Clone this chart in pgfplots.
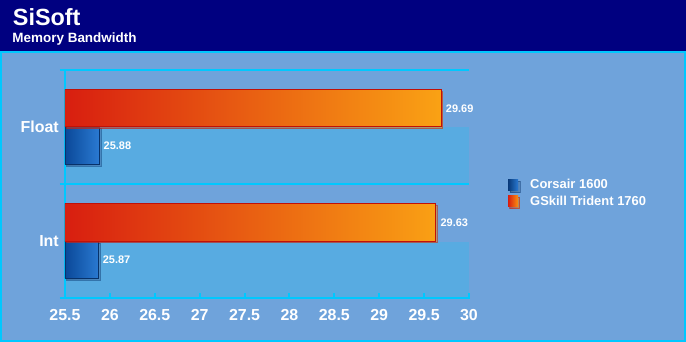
\documentclass[border=0pt]{standalone}
\usepackage{pgfplots}
\pgfplotsset{compat=1.18}
\usepackage{fontspec}
\setmainfont{Liberation Sans}
\usetikzlibrary{shadows}
\definecolor{navy}{HTML}{000080}
\definecolor{cyanb}{HTML}{00C8FF}
\definecolor{panel}{HTML}{6FA3DB}
\definecolor{band}{HTML}{58ABE1}
\definecolor{redL}{HTML}{D81E10}
\definecolor{redR}{HTML}{FAA214}
\definecolor{blueL}{HTML}{0A4898}
\definecolor{blueR}{HTML}{2A7AD2}
\definecolor{redEdge}{HTML}{C01008}
\begin{document}
\begin{tikzpicture}
\fill[panel] (-65bp,-44bp) rectangle (621bp,298bp);
\fill[navy] (-65bp,247bp) rectangle (621bp,298bp);
\draw[cyanb, line width=2.5bp] (-63.75bp,-42.75bp) rectangle (619.75bp,246bp);
\node[anchor=base west, inner sep=0pt, text=white, font=\bfseries\fontsize{23.5}{24}\selectfont] at (-52.3bp,272bp) {SiSoft};
\node[anchor=base west, inner sep=0pt, text=white, font=\bfseries\fontsize{13.5}{14}\selectfont] at (-52.7bp,255.7bp) {Memory Bandwidth};
\fill[band] (0,114bp) rectangle (404bp,171bp);
\fill[band] (0,0) rectangle (404bp,56bp);
% frame lines of the plot area
\draw[cyanb, line width=2bp] (-5bp,228bp) -- (404bp,228bp);
\draw[cyanb, line width=2bp] (-5bp,114bp) -- (404bp,114bp);
\foreach \k in {1,...,9} {\draw[cyanb, line width=2bp] ({\k*404/9*1bp},0) -- ({\k*404/9*1bp},5bp);}
\draw[cyanb, line width=2.5bp] (-5bp,0) -- (405bp,0);
\draw[cyanb, line width=2bp] (0,0) -- (0,229bp);
\begin{axis}[
 at={(0,0)}, anchor=south west, scale only axis, width=404bp, height=228bp,
 xmin=0, xmax=4.5, ymin=0, ymax=2,
 x filter/.expression={x-25.5},
 axis x line*=bottom, axis y line*=left,
 axis line style={draw=none},
 xtick={0,0.5,1,1.5,2,2.5,3,3.5,4,4.5},
 xticklabels={25.5,26,26.5,27,27.5,28,28.5,29,29.5,30},
 major tick length=0pt,
 tick style={draw=none},
 ytick={0.5,1.5}, yticklabels={Int,Float},
 ticklabel style={text=white, font=\bfseries\fontsize{16}{16}\selectfont},
 xticklabel style={yshift=-8bp},
 yticklabel style={xshift=-2.7bp},
 /pgf/number format/assume math mode=true,
 xbar, bar width=0.325,
 point meta=explicit,
 nodes near coords={\pgfmathprintnumber[fixed,fixed zerofill,precision=2]{\pgfplotspointmeta}},
 every node near coord/.append style={text=white, font=\bfseries\fontsize{11}{11}\selectfont, anchor=west, xshift=1bp},
 legend style={at={(1.0965,0.53)}, anchor=north west, draw=none, fill=none, text=white,
   font=\bfseries\fontsize{13}{15}\selectfont, inner sep=0pt, row sep=1.5bp},
 legend cell align=left,
]
\addplot[bar shift=-0.1625, draw=blueL!70!black, line width=0.6bp, left color=blueL, right color=blueR,
  drop shadow={shadow xshift=1.8bp, shadow yshift=-1.8bp, opacity=0.45},
  legend image code/.code={\shade[draw=none, left color=blueL!80!black, right color=blueR] (0bp,-5.5bp) rectangle (10bp,5.5bp); \pgfpathrectangle{\pgfpoint{0bp}{-0.1bp}}{\pgfpoint{20bp}{0.2bp}}\pgfusepath{discard}}]
 table[x=v, y=c, meta=v] {
c v
1.5 25.88
0.5 25.87
};
\addlegendentry{Corsair 1600}
\addplot[bar shift=0.1625, draw=redEdge, line width=1bp, left color=redL, right color=redR,
  drop shadow={shadow xshift=1.6bp, shadow yshift=-1.6bp, opacity=0.45},
  legend image code/.code={\shade[draw=none, left color=redL, right color=redR!90!red] (0bp,-5.5bp) rectangle (10bp,5.5bp); \pgfpathrectangle{\pgfpoint{0bp}{-0.1bp}}{\pgfpoint{20bp}{0.2bp}}\pgfusepath{discard}}]
 table[x=v, y=c, meta=v] {
c v
1.5 29.69
0.5 29.63
};
\addlegendentry{GSkill Trident 1760}
\end{axis}
\pgfresetboundingbox
\path (-65bp,-44bp) rectangle (621bp,298bp);
\end{tikzpicture}
\end{document}
